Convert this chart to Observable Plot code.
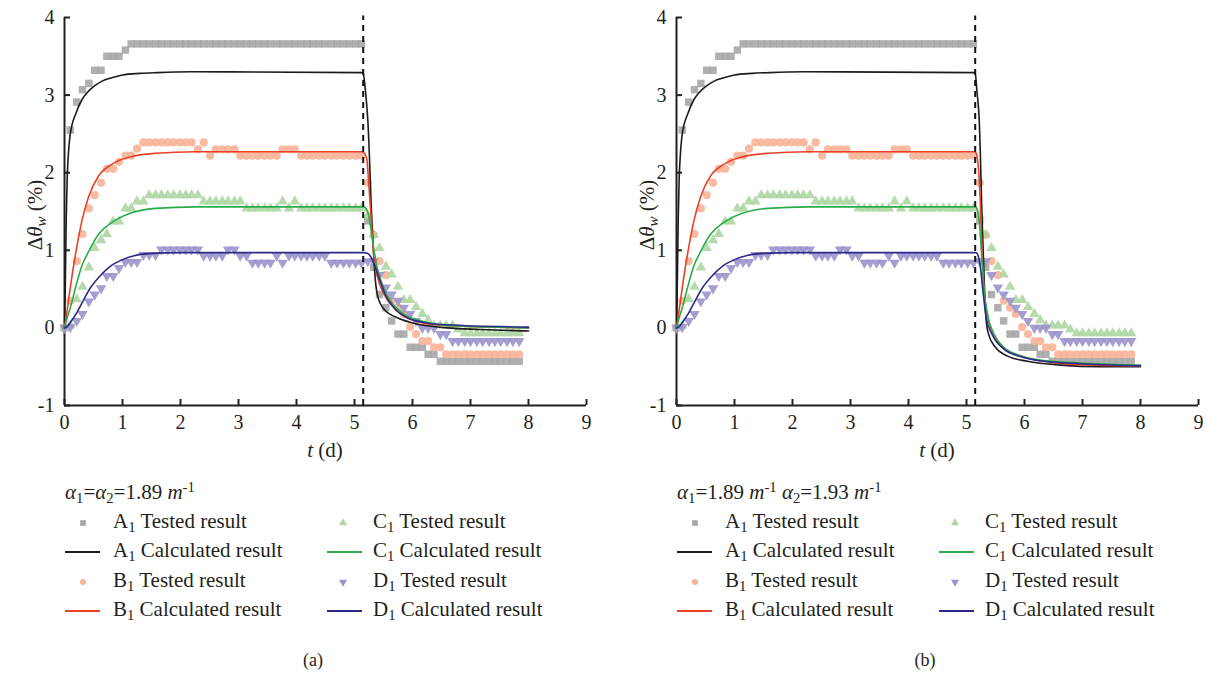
<!DOCTYPE html>
<html><head><meta charset="utf-8">
<script src="https://cdn.jsdelivr.net/npm/d3@7"></script>
<script src="https://cdn.jsdelivr.net/npm/@observablehq/plot@0.6"></script>
<style>
body{margin:0;background:#fff;font-family:"Liberation Serif","Times New Roman",Times,"DejaVu Serif","Noto Serif",serif;color:#231f20;}
#root{position:relative;width:1210px;height:673px;overflow:hidden;}
.panel{position:absolute;top:0;width:605px;height:673px;}
.leg{position:absolute;font-size:21px;white-space:nowrap;line-height:1;}
.sub{font-size:0.7em;position:relative;top:0.3em;}
.sup{font-size:0.7em;position:relative;top:-0.45em;}
.cap{position:absolute;font-size:18px;transform:translateX(-50%);white-space:nowrap;}
</style></head><body><div id="root"></div>
<script>
// ---------- data ----------
const xTicks = [0,1,2,3,4,5,6,7,8,9];
const yTicks = [-1,0,1,2,3,4];
const switchT = 5.15;

const tTest = [0,0.10,0.21,0.31,0.42,0.52,0.63,0.73,0.84,0.94,
1.05,1.15,1.25,1.36,1.46,1.57,1.67,1.78,1.88,1.99,
2.09,2.19,2.30,2.40,2.51,2.61,2.72,2.82,2.93,3.03,
3.14,3.24,3.34,3.45,3.55,3.66,3.76,3.87,3.97,4.08,
4.18,4.28,4.39,4.49,4.60,4.70,4.81,4.91,5.02,5.12,
5.23,5.33,5.43,5.54,5.64,5.75,5.85,5.96,6.06,6.17,
6.27,6.37,6.48,6.58,6.69,6.79,6.90,7.00,7.11,7.21,
7.32,7.42,7.52,7.63,7.73,7.84];

const A1Test = [0,2.55,2.91,3.07,3.15,3.32,3.32,3.50,3.50,3.50,
3.58,3.66,3.66,3.66,3.66,3.66,3.66,3.66,3.66,3.66,
3.66,3.66,3.66,3.66,3.66,3.66,3.66,3.66,3.66,3.66,
3.66,3.66,3.66,3.66,3.66,3.66,3.66,3.66,3.66,3.66,
3.66,3.66,3.66,3.66,3.66,3.66,3.66,3.66,3.66,3.66,
1.38,0.78,0.43,0.26,0.09,-0.08,-0.08,-0.25,-0.25,-0.25,
-0.34,-0.34,-0.43,-0.43,-0.43,-0.43,-0.43,-0.43,-0.43,-0.43,
-0.43,-0.43,-0.43,-0.43,-0.43,-0.43];

const B1Test = [0,0.35,0.86,1.21,1.54,1.71,1.87,2.05,2.05,2.14,
2.22,2.22,2.31,2.39,2.39,2.39,2.39,2.39,2.39,2.39,
2.39,2.39,2.30,2.39,2.22,2.30,2.30,2.30,2.30,2.22,
2.22,2.22,2.22,2.22,2.22,2.22,2.30,2.30,2.30,2.22,
2.22,2.22,2.22,2.22,2.22,2.22,2.22,2.22,2.22,2.22,
1.87,1.20,0.86,0.68,0.35,0.26,0.18,0.01,-0.08,-0.17,
-0.17,-0.25,-0.25,-0.34,-0.34,-0.34,-0.34,-0.34,-0.34,-0.34,
-0.34,-0.34,-0.34,-0.34,-0.34,-0.34];

const C1Test = [0,0.03,0.37,0.53,0.78,1.03,1.13,1.21,1.37,1.37,
1.54,1.54,1.63,1.63,1.71,1.71,1.71,1.71,1.71,1.71,
1.71,1.71,1.71,1.63,1.63,1.63,1.63,1.63,1.63,1.63,
1.54,1.54,1.54,1.54,1.54,1.54,1.63,1.54,1.63,1.54,
1.54,1.54,1.54,1.54,1.54,1.54,1.54,1.54,1.54,1.54,
1.45,1.20,1.03,0.79,0.69,0.53,0.36,0.36,0.27,0.18,
0.10,0.03,0.03,0.03,0.03,-0.02,-0.07,-0.07,-0.07,-0.07,
-0.07,-0.07,-0.07,-0.07,-0.07,-0.07];

const D1Test = [0,0.01,0.09,0.18,0.34,0.43,0.51,0.67,0.67,0.77,
0.85,0.85,0.85,0.94,0.94,0.94,1.01,1.01,1.01,1.01,
1.01,1.01,1.01,0.93,0.93,0.93,0.93,1.01,1.01,0.93,
0.93,0.84,0.84,0.84,0.84,0.93,0.84,0.93,0.93,0.93,
0.93,0.93,0.93,0.93,0.84,0.84,0.84,0.84,0.84,0.84,
0.86,0.86,0.68,0.52,0.43,0.35,0.26,0.18,0.09,0.00,
0.00,0.00,-0.08,-0.08,-0.17,-0.17,-0.17,-0.17,-0.17,-0.17,
-0.17,-0.17,-0.17,-0.17,-0.17,-0.17];

// calculated curves: wetting phase (same in both panels)
const A1RiseT = [0,0.01,0.02,0.03,0.045,0.06,0.1,0.2,0.3,0.4,0.5,0.65,0.8,1.0,1.3,1.6,2.2,5.13];
const A1RiseV = [0,0.35,0.9,1.4,1.9,2.15,2.5,2.77,2.94,3.04,3.11,3.18,3.22,3.26,3.28,3.29,3.30,3.29];
const B1RiseT = [0,0.05,0.10,0.19,0.30,0.42,0.59,0.82,1.11,1.57,2.26,5.13];
const B1RiseV = [0,0.25,0.52,0.95,1.38,1.70,1.96,2.11,2.20,2.25,2.27,2.27];
const C1RiseT = [0,0.05,0.10,0.19,0.30,0.42,0.59,0.82,1.11,1.57,2.26,5.13];
const C1RiseV = [0,0.14,0.26,0.52,0.80,0.99,1.21,1.36,1.47,1.54,1.56,1.56];
const D1RiseT = [0,0.05,0.1,0.2,0.3,0.45,0.6,0.8,1.0,1.2,1.5,2.0,5.13];
const D1RiseV = [0,0.02,0.07,0.18,0.32,0.52,0.66,0.80,0.88,0.93,0.96,0.97,0.97];

// drying phase, panel (a)
const A1DropTa = [5.15,5.18,5.21,5.23,5.30,5.36,5.40,5.51,5.74,6.02,6.6,7.17,8.0];
const A1DropVa = [3.28,3.12,2.88,2.67,1.38,0.61,0.41,0.24,0.13,0.06,0.0,-0.02,-0.04];
const B1DropTa = [5.16,5.21,5.25,5.29,5.33,5.40,5.51,5.68,5.91,6.2,6.6,8.0];
const B1DropVa = [2.26,2.19,1.81,1.38,0.95,0.65,0.43,0.26,0.13,0.06,0.03,0.0];
const C1DropTa = [5.16,5.23,5.28,5.32,5.39,5.48,5.62,5.85,6.2,6.6,8.0];
const C1DropVa = [1.56,1.49,1.29,1.08,0.78,0.56,0.35,0.18,0.08,0.03,0.0];
const D1DropTa = [5.16,5.23,5.30,5.36,5.44,5.53,5.68,5.91,6.2,6.6,8.0];
const D1DropVa = [0.97,0.96,0.89,0.78,0.61,0.43,0.26,0.13,0.07,0.04,0.01];

// drying phase, panel (b)
const A1DropTb = [5.15,5.18,5.22,5.27,5.31,5.34,5.38,5.50,5.70,6.05,6.62,7.31,8.0];
const A1DropVb = [3.28,3.05,2.67,1.38,0.52,0.09,-0.08,-0.25,-0.36,-0.43,-0.48,-0.50,-0.50];
const B1DropTb = [5.16,5.21,5.24,5.27,5.31,5.37,5.47,5.64,5.93,6.33,6.85,8.0];
const B1DropVb = [2.26,2.02,1.59,0.95,0.43,0.13,-0.08,-0.25,-0.36,-0.43,-0.47,-0.49];
const C1DropTb = [5.16,5.19,5.23,5.26,5.30,5.36,5.46,5.64,5.93,6.33,8.0];
const C1DropVb = [1.56,1.51,1.29,0.95,0.52,0.18,-0.06,-0.25,-0.36,-0.42,-0.48];
const D1DropTb = [5.16,5.19,5.24,5.29,5.34,5.44,5.64,5.93,6.33,8.0];
const D1DropVb = [0.97,0.95,0.78,0.43,0.13,-0.08,-0.27,-0.37,-0.43,-0.49];

const seriesKeys = ["A","B","C","D"];
const markerColors = ["#a6a6a6","#f7b397","#aed6a3","#9b94cc"];
const lineColors = ["#1b1b1b","#ea4127","#2aad49","#2b2a88"];
const legendTested = ["Tested result","Tested result","Tested result","Tested result"];
const legendCalc = ["Calculated result","Calculated result","Calculated result","Calculated result"];

// ---------- helpers ----------
const sqrt3 = Math.sqrt(3);
const triangleDown = {draw(ctx, size){const y = -Math.sqrt(size/(sqrt3*3)); ctx.moveTo(0,-y*2); ctx.lineTo(-sqrt3*y,y); ctx.lineTo(sqrt3*y,y); ctx.closePath();}};
const symbols = ["square","circle","triangle",triangleDown];
const radii = [4.2,4.1,3.9,3.9];

const toRows = (ts, vs) => ts.map((t,i)=>({t, v: vs[i]}));
const testData = [A1Test,B1Test,C1Test,D1Test].map(vs => toRows(tTest, vs));
const riseData = [[A1RiseT,A1RiseV],[B1RiseT,B1RiseV],[C1RiseT,C1RiseV],[D1RiseT,D1RiseV]];
const dropA = [[A1DropTa,A1DropVa],[B1DropTa,B1DropVa],[C1DropTa,C1DropVa],[D1DropTa,D1DropVa]];
const dropB = [[A1DropTb,A1DropVb],[B1DropTb,B1DropVb],[C1DropTb,C1DropVb],[D1DropTb,D1DropVb]];

const FONT = '"Liberation Serif","Times New Roman",Times,"DejaVu Serif","Noto Serif",serif';
const W = 605, H = 470, ML = 64, MR = 19, MT = 17, MB = 65;
const plotW = W - ML - MR, plotH = H - MT - MB;

function makePanel(offset, drops, titleHTML, caption){
  const div = document.createElement("div");
  div.className = "panel";
  div.style.left = offset + "px";
  document.getElementById("root").appendChild(div);

  const marks = [
    Plot.ruleY([-1], {stroke:"#231f20", strokeWidth:2}),
    Plot.ruleX([0], {stroke:"#231f20", strokeWidth:2}),
    Plot.tickX(xTicks, {x:d=>d, insetTop: plotH - 6, stroke:"#231f20", strokeWidth:2}),
    Plot.tickY(yTicks, {y:d=>d, insetRight: plotW - 6, stroke:"#231f20", strokeWidth:2}),
    Plot.axisX({ticks: xTicks, tickSize:0, tickPadding:9, tickFormat:d=>String(d), fontSize:20, fontFamily: FONT, label:null}),
    Plot.axisY({ticks: yTicks, tickSize:0, tickPadding:10, tickFormat:d=>String(d), fontSize:20, fontFamily: FONT, label:null})
  ];
  testData.forEach((rows, k) => {
    marks.push(Plot.dot(rows, {x:"t", y:"v", symbol: symbols[k], r: radii[k], fill: markerColors[k], fillOpacity:0.9, stroke:"none"}));
  });
  riseData.forEach(([rt, rv], k) => {
    const [dt, dv] = drops[k];
    const rows = toRows(rt, rv).concat(toRows(dt, dv));
    marks.push(Plot.line(rows, {x:"t", y:"v", stroke: lineColors[k], strokeWidth:1.6, curve:"monotone-x"}));
  });
  marks.push(Plot.ruleX([switchT], {y1:-1, y2:4.02, stroke:"#111", strokeWidth:2, strokeDasharray:"6,5"}));

  const svg = Plot.plot({
    width: W, height: H,
    marginLeft: ML, marginRight: MR, marginTop: MT, marginBottom: MB,
    x: {domain:[0,9]},
    y: {domain:[-1,4]},
    style: {fontFamily: FONT, fontSize:"20px", color:"#231f20", background:"transparent"},
    marks
  });
  svg.style.position = "absolute";
  svg.style.left = "0px";
  svg.style.top = "0px";
  div.appendChild(svg);

  const s = d3.select(svg);
  // x label
  const xl = s.append("text").attr("x", 325).attr("y", 457).attr("text-anchor","middle")
    .attr("font-family", FONT).attr("font-size", 21).attr("fill","#231f20");
  xl.append("tspan").attr("font-style","italic").text("t");
  xl.append("tspan").text(" (d)");
  // y label
  const yl = s.append("text").attr("transform","translate(42,215) rotate(-90)").attr("text-anchor","middle")
    .attr("font-family", FONT).attr("font-size", 21).attr("fill","#231f20");
  yl.append("tspan").text("Δ");
  yl.append("tspan").attr("font-style","italic").text("θ");
  yl.append("tspan").attr("font-style","italic").attr("font-size",15).attr("dy",4).text("w");
  yl.append("tspan").attr("dy",-4).text(" (%)");

  // legend title
  const t = document.createElement("div");
  t.className = "leg";
  t.style.left = "65px"; t.style.top = "482px";
  t.innerHTML = titleHTML;
  div.appendChild(t);

  const rowsY = [523, 552, 582, 611];
  const cols = [{sym:83, line0:65, line1:100, text:113},{sym:343, line0:327, line1:362, text:373}];
  seriesKeys.forEach((key, k) => {
    const col = cols[Math.floor(k/2)];
    const r0 = (k % 2) * 2;
    addLegendRow(div, col, rowsY[r0], key, legendTested[k], "marker", k);
    addLegendRow(div, col, rowsY[r0+1], key, legendCalc[k], "line", k);
  });

  const cap = document.createElement("div");
  cap.className = "cap";
  cap.style.left = "313px"; cap.style.top = "650px";
  cap.textContent = caption;
  div.appendChild(cap);
}

function addLegendRow(div, col, cy, key, label, kind, k){
  const ns = "http://www.w3.org/2000/svg";
  const sv = document.createElementNS(ns, "svg");
  sv.setAttribute("width", 44); sv.setAttribute("height", 16);
  sv.style.position = "absolute";
  sv.style.left = (col.line0 - 2) + "px";
  sv.style.top = (cy - 8) + "px";
  const cx = col.sym - col.line0 + 2;
  if (kind === "line") {
    const l = document.createElementNS(ns, "line");
    l.setAttribute("x1", 2); l.setAttribute("x2", col.line1 - col.line0 + 2);
    l.setAttribute("y1", 8); l.setAttribute("y2", 8);
    l.setAttribute("stroke", lineColors[k]); l.setAttribute("stroke-width", 2);
    sv.appendChild(l);
  } else {
    const p = document.createElementNS(ns, "path");
    const sz = Math.PI * (k === 0 ? 3.2 : 3.0) ** 2;
    const symObj = k === 0 ? d3.symbolSquare : k === 1 ? d3.symbolCircle : k === 2 ? d3.symbolTriangle : triangleDown;
    p.setAttribute("d", d3.symbol(symObj, sz)());
    p.setAttribute("transform", `translate(${cx},8)`);
    p.setAttribute("fill", markerColors[k]);
    sv.appendChild(p);
  }
  div.appendChild(sv);
  const tx = document.createElement("div");
  tx.className = "leg";
  tx.style.left = col.text + "px";
  tx.style.top = (cy - 12) + "px";
  tx.innerHTML = `${key}<span class="sub">1</span> ${label}`;
  div.appendChild(tx);
}

const titleA = '<i>α</i><span class="sub">1</span>=<i>α</i><span class="sub">2</span>=1.89 <i>m</i><span class="sup">-1</span>';
const titleB = '<i>α</i><span class="sub">1</span>=1.89 <i>m</i><span class="sup">-1</span> <i>α</i><span class="sub">2</span>=1.93 <i>m</i><span class="sup">-1</span>';

makePanel(0, dropA, titleA, "(a)");
makePanel(612, dropB, titleB, "(b)");
</script></body></html>
